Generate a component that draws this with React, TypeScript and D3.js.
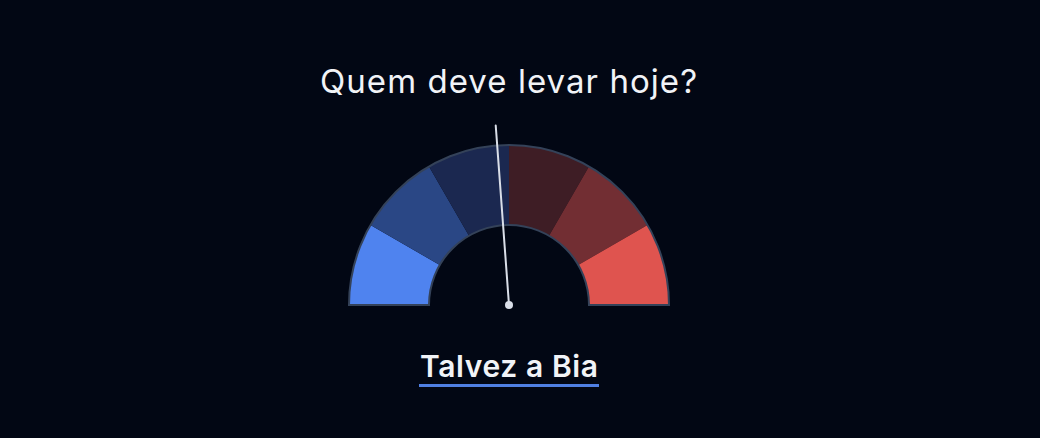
import React from "react";
import * as d3 from "d3";

const W = 1040;
const H = 438;

const title = "Quem deve levar hoje?";
const answer = "Talvez a Bia";
// gauge bands, left (blue) to right (red), on a -1..1 scale
const bandStops = [-1, -2 / 3, -1 / 3, 0, 1 / 3, 2 / 3, 1];
const bandColors = ["#4F83EF", "#2A4785", "#1B2850", "#3E1D25", "#722E33", "#DF544F"];
const needleValue = -0.047;

export default function App() {
  const cx = 509;
  const cy = 305;
  const outerR = 160;
  const innerR = 80;
  const angle = d3.scaleLinear().domain([-1, 1]).range([-Math.PI / 2, Math.PI / 2]);
  const arc = d3.arc<any>().innerRadius(innerR).outerRadius(outerR);
  const bands = bandColors.map((c, i) => ({
    color: c,
    d: arc({ startAngle: angle(bandStops[i]), endAngle: angle(bandStops[i + 1]) } as any) as string,
  }));
  const outline = arc({ startAngle: angle(-1), endAngle: angle(1) } as any) as string;
  const a = angle(needleValue);
  const needleLen = 180;
  const nx = cx + Math.sin(a) * needleLen;
  const ny = cy - Math.cos(a) * needleLen;

  return (
    <svg
      width={W}
      height={H}
      style={{ position: "absolute", left: 0, top: 0, background: "#020714", display: "block" }}
      fontFamily="Inter, 'Noto Sans', sans-serif"
    >
      <rect width={W} height={H} fill="#020714" />
      <text
        x={cx - 0.5}
        y={93}
        textAnchor="middle"
        fontSize={33}
        fill="#F1F3F7"
        fontWeight={400}
        textLength={377}
        lengthAdjust="spacing"
      >
        {title}
      </text>
      <g transform={`translate(${cx},${cy})`}>
        {bands.map((b, i) => (
          <path key={i} d={b.d} fill={b.color} />
        ))}
        <path d={outline} fill="none" stroke="#344259" strokeWidth={2} />
      </g>
      <line x1={cx} y1={cy} x2={nx} y2={ny} stroke="#D9DEE8" strokeWidth={2} strokeLinecap="round" />
      <circle cx={cx} cy={cy} r={4} fill="#D9DEE8" />
      <text
        x={cx}
        y={377}
        textAnchor="middle"
        fontSize={30}
        fontWeight={600}
        fill="#F1F3F7"
        textLength={178}
        lengthAdjust="spacing"
      >
        {answer}
      </text>
      <rect x={419} y={384} width={180} height={3} fill="#4F7FE3" />
    </svg>
  );
}
